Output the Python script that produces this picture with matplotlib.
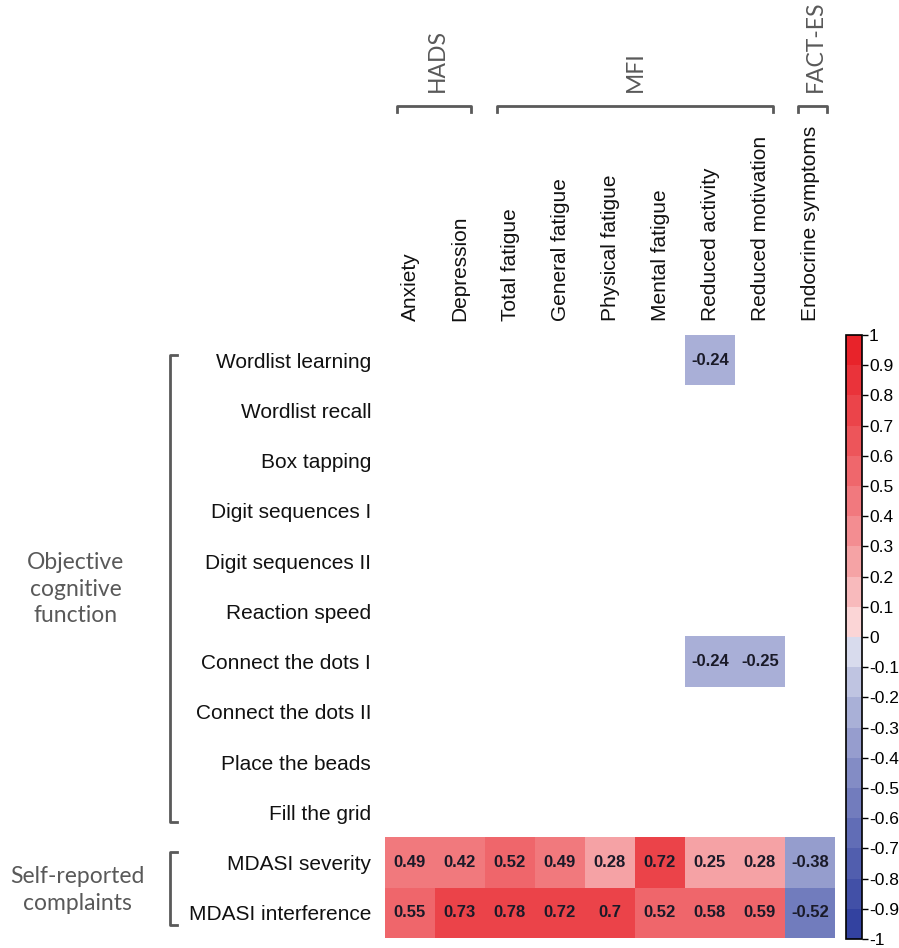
import numpy as np
import matplotlib.pyplot as plt
from matplotlib.colors import ListedColormap, BoundaryNorm, to_rgb

# row / column labels
rows = ['Wordlist learning', 'Wordlist recall', 'Box tapping', 'Digit sequences I',
        'Digit sequences II', 'Reaction speed', 'Connect the dots I',
        'Connect the dots II', 'Place the beads', 'Fill the grid',
        'MDASI severity', 'MDASI interference']
cols = ['Anxiety', 'Depression', 'Total fatigue', 'General fatigue',
        'Physical fatigue', 'Mental fatigue', 'Reduced activity',
        'Reduced motivation', 'Endocrine symptoms']

# significant correlations only (None = not significant)
wordlist_learning = [None, None, None, None, None, None, -0.24, None, None]
connect_dots_1 = [None, None, None, None, None, None, -0.24, -0.25, None]
mdasi_severity = [0.49, 0.42, 0.52, 0.49, 0.28, 0.72, 0.25, 0.28, -0.38]
mdasi_interference = [0.55, 0.73, 0.78, 0.72, 0.7, 0.52, 0.58, 0.59, -0.52]

blank = [None] * 9
table = [wordlist_learning, blank, blank, blank, blank, blank,
         connect_dots_1, blank, blank, blank, mdasi_severity, mdasi_interference]
corr = np.array([[np.nan if v is None else v for v in r] for r in table])

# discrete blue-white-red palette, 20 steps of 0.1
edges = np.round(np.linspace(-1, 1, 21), 2)
red = np.array(to_rgb('#E8232A'))
blue = np.array(to_rgb('#3342A0'))
colors = []
for lo, hi in zip(edges[:-1], edges[1:]):
    if hi <= 0:
        f = abs(lo) ** 0.72
        colors.append(1 - f * (1 - blue))
    else:
        f = hi ** 0.72
        colors.append(1 - f * (1 - red))
cmap = ListedColormap(colors)
cmap.set_bad('white')
norm = BoundaryNorm(edges, cmap.N)

W, H = 899, 948
fig = plt.figure(figsize=(W / 100, H / 100), dpi=100)

# overlay for brackets and group names (pixel coords)
ov = fig.add_axes([0, 0, 1, 1])
ov.set_xlim(0, W)
ov.set_ylim(H, 0)
ov.axis('off')

ax = fig.add_axes([385 / W, 1 - 938 / H, 450 / W, 603 / H])
ax.imshow(np.ma.masked_invalid(corr), cmap=cmap, norm=norm, aspect='auto',
          interpolation='nearest')
for i in range(corr.shape[0]):
    for j in range(corr.shape[1]):
        v = corr[i, j]
        if not np.isnan(v):
            ax.text(j, i, f'{v:g}', ha='center', va='center', fontsize=12,
                    fontweight='bold', color='#1a1a28', family='Liberation Sans')

ax.set_xticks(range(len(cols)))
ax.set_xticklabels(cols, rotation=90, fontsize=15, family='Liberation Sans', color='#111111')
ax.xaxis.tick_top()
ax.set_yticks(range(len(rows)))
ax.set_yticklabels(rows, fontsize=15, family='Liberation Sans', color='#111111')
ax.tick_params(length=0, pad=10)
for s in ax.spines.values():
    s.set_visible(False)

# colorbar
cax = fig.add_axes([846 / W, 1 - 939 / H, 16 / W, 604 / H])
cb = fig.colorbar(plt.cm.ScalarMappable(norm=norm, cmap=cmap), cax=cax,
                  boundaries=edges, ticks=edges, drawedges=False)
cb.ax.set_yticklabels([f'{t:g}' for t in edges], fontsize=12.5, family='Liberation Sans')
cb.ax.tick_params(length=4, width=1, pad=1, color='black')
cb.outline.set_linewidth(1.2)
cb.outline.set_edgecolor('black')

# brackets
grey = '#5a5a5a'
for x0, x1 in [(397, 471), (497, 773), (798, 827)]:
    ov.plot([x0, x0, x1, x1], [112, 106, 106, 112], color=grey, lw=2)
for y0, y1 in [(355, 822), (852, 925)]:
    ov.plot([177, 170, 170, 177], [y0, y0, y1, y1], color=grey, lw=2)

group_font = dict(family='Lato', fontsize=16.5, color='#595959')
ov.text(437, 92, 'HADS', rotation=90, ha='center', va='bottom', **group_font)
ov.text(635, 92, 'MFI', rotation=90, ha='center', va='bottom', **group_font)
ov.text(815, 92, 'FACT-ES', rotation=90, ha='center', va='bottom', **group_font)
ov.text(76, 589, 'Objective\ncognitive\nfunction', ha='center', va='center',
        linespacing=1.35, **group_font)
ov.text(77, 890, 'Self-reported\ncomplaints', ha='center', va='center',
        linespacing=1.35, **group_font)

fig.savefig('out.png', dpi=100)
